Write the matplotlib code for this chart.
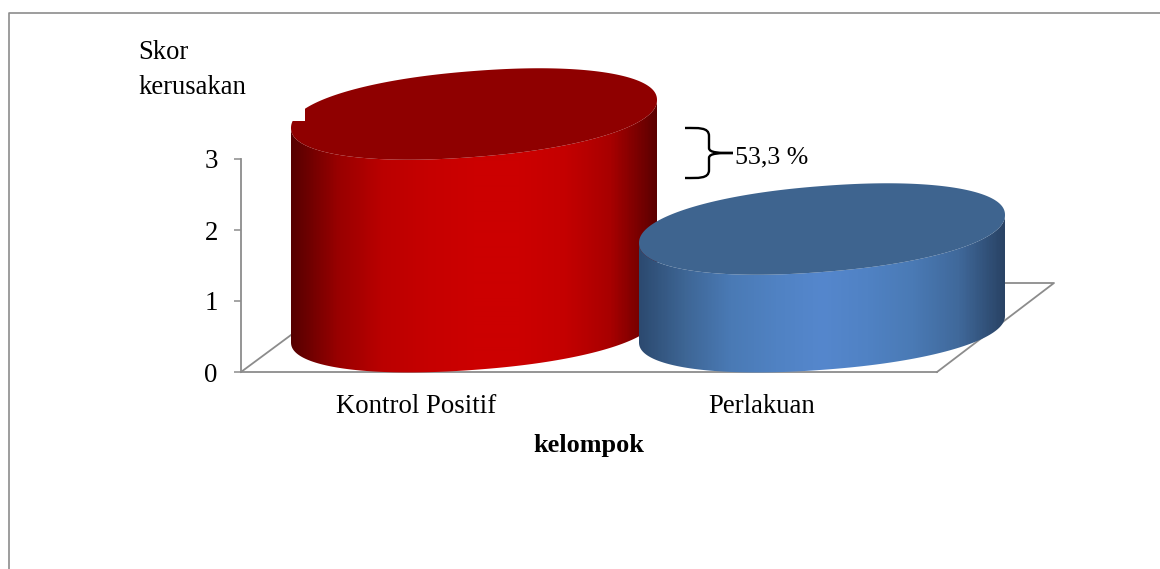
import numpy as np
import matplotlib
matplotlib.use("Agg")
import matplotlib.pyplot as plt
from matplotlib.colors import LinearSegmentedColormap
from matplotlib.patches import Polygon, PathPatch, Rectangle
from matplotlib.path import Path

categories = ["Kontrol Positif", "Perlakuan"]
values = [3.0, 1.38]
y_ticks = [0, 1, 2, 3]
y_title = "Skor\nkerusakan"
x_title = "kelompok"
note = "53,3 %"

red_side = ["#560000", "#980000", "#bb0000", "#c60000", "#cc0000", "#cc0000", "#c40000", "#a80000", "#5c0000"]
blue_side = ["#2c4a70", "#3e6695", "#4a7ab5", "#5082c3", "#5587cd", "#5082c4", "#4a7ab5", "#40699b", "#294365"]
top_colors = ["#8f0000", "#3e648f"]
side_colors = [red_side, blue_side]

W, H = 1160, 569
PX = 71.0        # pixels per value unit
ZERO = 372.0     # pixel row of value 0
BASE = 45.0      # lift of the cylinder top reference above the floor front edge
A, B, K = 183.0, 43.0, 14.0
N = 2.15         # rim roundness (2 would be a plain ellipse)
BASE_SQUASH = 0.95
centres = [474.0, 822.0]
GREY = "#8c8c8c"
SERIF = "Liberation Serif"


def v(py):
    return (ZERO - np.asarray(py, dtype=float)) / PX


def rim(tv):
    c, s = np.cos(tv), np.sin(tv)
    cs = np.sign(c) * np.abs(c) ** (2 / N)
    ss = np.sign(s) * np.abs(s) ** (2 / N)
    return A * cs, B * ss - K * cs


fig = plt.figure(figsize=(W / 100, H / 100), dpi=100)
ax = fig.add_axes([0, 0, 1, 1])
ax.patch.set_alpha(0)

for s in ["top", "right"]:
    ax.spines[s].set_visible(False)
ax.spines["left"].set_position(("data", 241))
ax.spines["left"].set_bounds(0, max(y_ticks))
ax.spines["bottom"].set_position(("data", 0))
ax.spines["bottom"].set_bounds(241, 937)
for s in ["left", "bottom"]:
    ax.spines[s].set_color(GREY)
    ax.spines[s].set_linewidth(1.3)
    ax.spines[s].set_zorder(1)
ax.set_yticks(y_ticks)
ax.set_yticklabels([str(t) for t in y_ticks], family=SERIF, fontsize=19.3)
ax.tick_params(axis="y", length=5, width=1.1, color=GREY, pad=11.7, direction="out")
ax.set_xticks([416, 762])
ax.set_xticklabels(categories, family=SERIF, fontsize=19.3)
ax.tick_params(axis="x", length=0, pad=15.8)

# floor outline
ax.plot([241, 291], v([372, 335]), color=GREY, lw=1.3, zorder=1)
ax.plot([937, 1054, 1000], v([372, 283, 283]), color=GREY, lw=1.3, zorder=1)

t = np.linspace(0, np.pi, 361)
tt = np.linspace(0, 2 * np.pi, 721)
for i, (cx, val) in enumerate(zip(centres, values)):
    top_y = ZERO - BASE - val * PX
    base_y = ZERO - 43.0
    z = 3 + i
    dx, dy = rim(t)
    xs = np.r_[cx + dx, (cx + dx)[::-1]]
    ys = np.r_[top_y + dy, (base_y + BASE_SQUASH * dy)[::-1]]
    side = Polygon(np.c_[xs, v(ys)], closed=True, fc="none", ec="none", zorder=z)
    ax.add_patch(side)
    cmap = LinearSegmentedColormap.from_list("side", side_colors[i])
    im = ax.imshow(np.linspace(0, 1, 366)[None, :], cmap=cmap, aspect="auto",
                   extent=(cx - A, cx + A, v(ZERO + 10), v(top_y - 60)), zorder=z,
                   interpolation="bilinear")
    im.set_clip_path(side)
    ex, ey = rim(tt)
    ax.add_patch(Polygon(np.c_[cx + ex, v(top_y + ey)], closed=True, fc=top_colors[i], ec="none", zorder=z + 0.1))

# small notch at the top-left of the red cylinder
ax.add_patch(Rectangle((286, v(121)), 19, v(105) - v(121), fc="white", ec="none", zorder=3.5))

# brace
P = [(685, 128), (698, 128), (709, 127), (709, 136),
     (709, 141), (709, 146), (709, 148),
     (709, 153), (720, 153), (733, 153),
     (720, 153), (709, 153), (709, 158),
     (709, 162), (709, 166), (709, 170),
     (709, 179), (698, 178), (685, 178)]
P = [(x, float(v(y))) for x, y in P]
codes = [Path.MOVETO] + [Path.CURVE4] * 18
ax.add_patch(PathPatch(Path(P, codes), fc="none", ec="black", lw=1.7, zorder=6))

ax.text(735, v(163), note, family=SERIF, fontsize=18.6, color="black", va="baseline", ha="left")
ax.text(138.5, v(59), y_title.split("\n")[0], family=SERIF, fontsize=19.2, color="black", va="baseline")
ax.text(138.5, v(94), y_title.split("\n")[1], family=SERIF, fontsize=19.2, color="black", va="baseline")
ax.text(589, v(452), x_title, family=SERIF, fontsize=18.9, fontweight="bold", color="black",
        va="baseline", ha="center")

# chart frame
ax.plot([9, 9, W], v([H, 13, 13]), color=GREY, lw=1.2, zorder=1, clip_on=False)

ax.set_xlim(0, W)
ax.set_ylim(v(H), v(0))
fig.savefig("out.png", dpi=100)
